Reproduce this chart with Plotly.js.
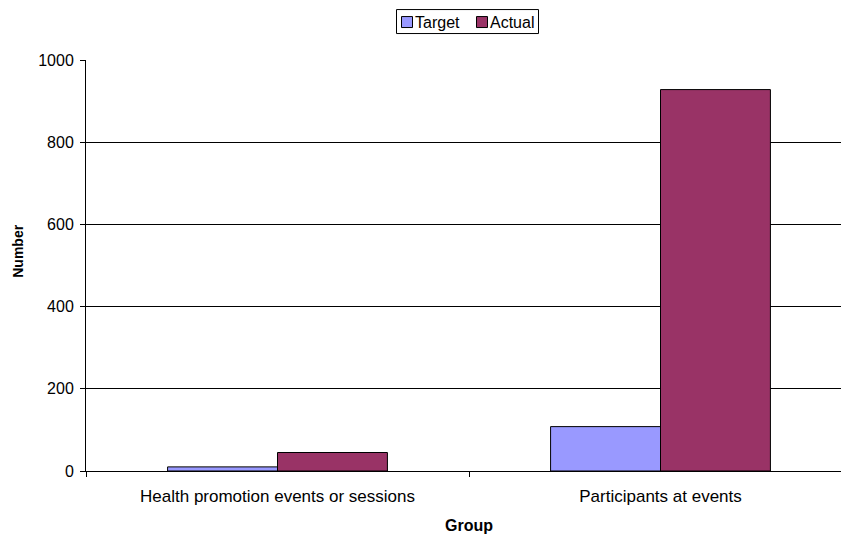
<!DOCTYPE html>
<html>
<head>
<meta charset="utf-8">
<script src="https://cdn.plot.ly/plotly-3.0.1.min.js"></script>
<style>
html,body{margin:0;padding:0;overflow:hidden;background:#fff;}
#chart{width:852px;height:534px;}
</style>
</head>
<body>
<div id="chart"></div>
<script>
var categories = ["Health promotion events or sessions", "Participants at events"];
var targetValues = [10, 108];
var actualValues = [45, 928];
var seriesNames = ["Target", "Actual"];
var seriesColors = ["#9999FF", "#993366"];
var yTicks = [0, 200, 400, 600, 800, 1000];

var fontFamily = "Liberation Sans, Arial, sans-serif";

var traces = [
  {
    type: "bar", name: seriesNames[0], x: categories, y: targetValues,
    marker: {color: seriesColors[0], line: {color: "#000000", width: 1}}
  },
  {
    type: "bar", name: seriesNames[1], x: categories, y: actualValues,
    marker: {color: seriesColors[1], line: {color: "#000000", width: 1}}
  }
];

// Custom legend box (drawn with shapes + text annotations)
var W = 852, H = 534, L = 86, T = 60, B = 62.5;
var pw = W - L, ph = H - T - B;
function px(x) { return (x - L) / pw; }
function py(y) { return (H - B - y) / ph; }

var shapes = [
  {type: "rect", xref: "paper", yref: "paper", x0: px(396.5), x1: px(538.5), y0: py(33.5), y1: py(9.5),
   line: {color: "#000000", width: 1}, fillcolor: "#ffffff", layer: "above"},
  {type: "rect", xref: "paper", yref: "paper", x0: px(401.5), x1: px(412.5), y0: py(27.5), y1: py(16.5),
   line: {color: "#000000", width: 1}, fillcolor: seriesColors[0], layer: "above"},
  {type: "rect", xref: "paper", yref: "paper", x0: px(476.5), x1: px(487.5), y0: py(27.5), y1: py(16.5),
   line: {color: "#000000", width: 1}, fillcolor: seriesColors[1], layer: "above"}
];
var annotations = [
  {xref: "paper", yref: "paper", x: px(413), y: py(22), xanchor: "left", yanchor: "middle",
   text: seriesNames[0], showarrow: false, font: {family: fontFamily, size: 16, color: "#000"}},
  {xref: "paper", yref: "paper", x: px(488), y: py(22), xanchor: "left", yanchor: "middle",
   text: seriesNames[1], showarrow: false, font: {family: fontFamily, size: 16, color: "#000"}},
  {xref: "paper", yref: "paper", x: px(18), y: py(252), xanchor: "center", yanchor: "middle",
   text: "<b>Number</b>", textangle: -90, showarrow: false,
   font: {family: fontFamily, size: 14, color: "#000"}}
];

var layout = {
  width: W, height: H,
  margin: {l: L, r: 0, t: T, b: B, pad: 0},
  paper_bgcolor: "#ffffff", plot_bgcolor: "#ffffff",
  font: {family: fontFamily, size: 16, color: "#000000"},
  barmode: "group", bargap: 0.426, bargroupgap: 0,
  showlegend: false,
  shapes: shapes,
  annotations: annotations,
  xaxis: {
    type: "category",
    title: {text: "<b>Group</b>", font: {family: fontFamily, size: 16}, standoff: 16},
    tickson: "boundaries", ticks: "outside", ticklen: 5, tickcolor: "#000000",
    ticklabelstandoff: 10,
    showline: true, linecolor: "#000000", linewidth: 1,
    showgrid: false, zeroline: false,
    tickfont: {family: fontFamily, size: 17}
  },
  yaxis: {
    range: [0, 1000], tickvals: yTicks, ticktext: yTicks.map(String),
    ticks: "outside", ticklen: 5, tickcolor: "#000000",
    ticklabelstandoff: 3,
    showline: true, linecolor: "#000000", linewidth: 1,
    showgrid: true, gridcolor: "#000000", gridwidth: 1,
    zeroline: false,
    tickfont: {family: fontFamily, size: 16}
  }
};

Plotly.newPlot("chart", traces, layout, {displayModeBar: false, staticPlot: true});
</script>
</body>
</html>
